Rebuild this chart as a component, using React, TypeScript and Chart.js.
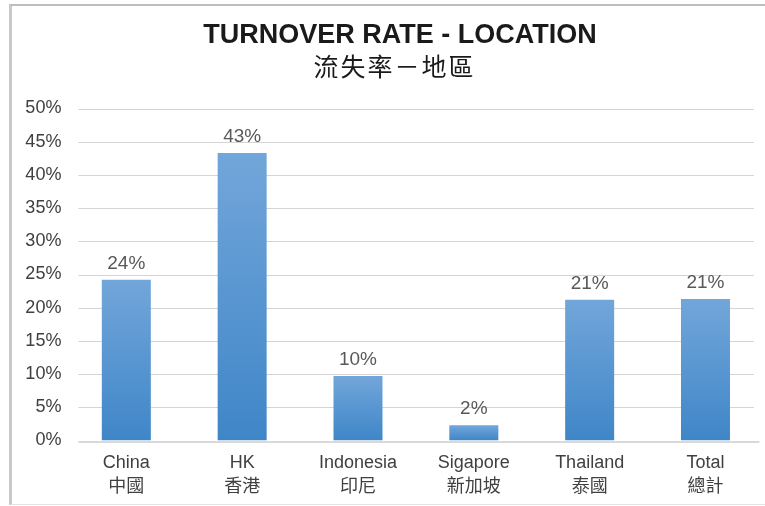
import React, { useEffect, useRef } from 'react';
import { Chart, registerables } from 'chart.js';

Chart.register(...registerables);

// ---- data ----
const TITLE = 'TURNOVER RATE - LOCATION';
const SUBTITLE = '流失率－地區';
const CATEGORIES_EN = ['China', 'HK', 'Indonesia', 'Sigapore', 'Thailand', 'Total'];
const CATEGORIES_ZH = ['中國', '香港', '印尼', '新加坡', '泰國', '總計'];
const TURNOVER = [0.242, 0.433, 0.097, 0.023, 0.212, 0.213];
const Y_MIN = 0;
const Y_MAX = 0.5;
const Y_STEP = 0.05;

// ---- style ----
const LATIN = '"Liberation Sans", Arial, Helvetica, "Noto Sans CJK TC", sans-serif';
const CJK = '"Noto Sans CJK TC", "Liberation Sans", sans-serif';
const BAR_TOP = '#72a6da';
const BAR_BOTTOM = '#3f86c8';
const W = 765;
const H = 506;

const pct = (v: number) => Math.round(v * 100) + '%';

const titlePlugin = {
  id: 'customTitle',
  afterDraw(chart: any) {
    const { ctx, width } = chart;
    ctx.save();
    ctx.fillStyle = '#1a1a1a';
    ctx.textAlign = 'center';
    ctx.textBaseline = 'alphabetic';
    ctx.font = 'bold 27px ' + LATIN;
    ctx.fillText(TITLE, width / 2 + 17.5, 43);
    ctx.font = '25px ' + CJK;
    (ctx as any).letterSpacing = '2px';
    ctx.fillText(SUBTITLE, width / 2 + 12, 76);
    (ctx as any).letterSpacing = '0px';
    ctx.restore();
  },
};

const gridPlugin = {
  id: 'customGrid',
  beforeDatasetsDraw(chart: any) {
    const { ctx, chartArea, scales } = chart;
    const y = scales.y;
    ctx.save();
    y.ticks.forEach((t: any) => {
      const py = Math.round(y.getPixelForValue(t.value));
      ctx.beginPath();
      if (t.value === 0) {
        ctx.strokeStyle = '#d9d9d9';
        ctx.lineWidth = 2;
        ctx.moveTo(chartArea.left + 10, py + 1);
        ctx.lineTo(chartArea.right - 4, py + 1);
      } else {
        ctx.strokeStyle = '#d4d4d4';
        ctx.lineWidth = 1;
        ctx.moveTo(chartArea.left + 10, py + 0.5);
        ctx.lineTo(chartArea.right - 9.4, py + 0.5);
      }
      ctx.stroke();
    });
    ctx.restore();
  },
};

const labelPlugin = {
  id: 'valueLabels',
  afterDatasetsDraw(chart: any) {
    const { ctx } = chart;
    const meta = chart.getDatasetMeta(0);
    ctx.save();
    ctx.font = '19px ' + LATIN;
    ctx.fillStyle = '#595959';
    ctx.textAlign = 'center';
    ctx.textBaseline = 'alphabetic';
    meta.data.forEach((bar: any, i: number) => {
      ctx.fillText(pct(TURNOVER[i]), bar.x, bar.y - 11);
    });
    ctx.restore();
  },
};

export default function App() {
  const ref = useRef<HTMLCanvasElement | null>(null);

  useEffect(() => {
    if (!ref.current) return;
    const chart = new Chart(ref.current, {
      type: 'bar',
      data: {
        labels: CATEGORIES_EN.map((e, i) => [e, CATEGORIES_ZH[i]]),
        datasets: [
          {
            data: TURNOVER,
            borderWidth: 0,
            categoryPercentage: 1,
            barPercentage: 0.423,
            backgroundColor: (c: any) => {
              const ch = c.chart;
              if (!ch.chartArea || c.type !== 'data') return BAR_BOTTOM;
              const y = ch.scales.y;
              const top = y.getPixelForValue(c.raw);
              const base = y.getPixelForValue(0);
              const g = ch.ctx.createLinearGradient(0, top, 0, base);
              g.addColorStop(0, BAR_TOP);
              g.addColorStop(1, BAR_BOTTOM);
              return g;
            },
          },
        ],
      },
      options: {
        animation: false,
        responsive: false,
        devicePixelRatio: 1,
        layout: { padding: { left: 0, right: 1.6, top: 108.5, bottom: 0 } },
        plugins: {
          legend: { display: false },
          tooltip: { enabled: false },
          title: { display: false },
        },
        scales: {
          x: {
            offset: true,
            grid: { display: false, drawTicks: false },
            border: { display: false },
            ticks: {
              color: '#404040',
              font: { family: LATIN, size: 18, lineHeight: 1.3 },
              padding: 11,
              maxRotation: 0,
              autoSkip: false,
            },
            afterFit: (s: any) => {
              s.height = 65.5;
            },
          },
          y: {
            min: Y_MIN,
            max: Y_MAX,
            grid: { display: false, drawTicks: false },
            border: { display: false },
            ticks: {
              stepSize: Y_STEP,
              color: '#404040',
              font: { family: LATIN, size: 18 },
              padding: 7,
              callback: (v: any) => pct(Number(v)),
            },
            afterFit: (s: any) => {
              s.width = 68.4;
            },
          },
        },
      },
      plugins: [gridPlugin, labelPlugin, titlePlugin],
    });
    return () => chart.destroy();
  }, []);

  return (
    <div
      style={{
        position: 'fixed',
        left: 0,
        top: 0,
        width: W,
        height: H,
        overflow: 'hidden',
        background: '#ffffff',
      }}
    >
      <div
        style={{
          position: 'absolute',
          left: 9,
          top: 4,
          width: 800,
          height: 501,
          boxSizing: 'border-box',
          borderLeft: '3px solid #c8c8c8',
          borderTop: '2px solid #bdbdbd',
          borderBottom: '1px solid #e3e3e3',
        }}
      />
      <canvas
        ref={ref}
        width={W}
        height={H}
        style={{ position: 'absolute', left: 0, top: 0, display: 'block' }}
      />
    </div>
  );
}
